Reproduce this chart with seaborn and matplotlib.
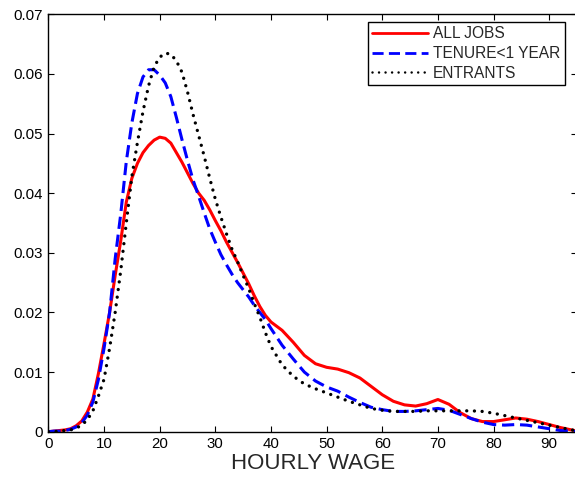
import numpy as np
import pandas as pd
import matplotlib
matplotlib.use("Agg")
import matplotlib.pyplot as plt
import seaborn as sns

# ---- data ----
wage = [0, 1, 2, 3, 4, 5, 6, 7, 8, 9, 10, 11, 12, 13, 14, 15, 16, 17, 18, 19,
        20, 21, 22, 23, 24, 25, 26, 27, 28, 29, 30, 31, 32, 33, 34, 35, 36, 37,
        38, 39, 40, 42, 44, 46, 48, 50, 52, 54, 56, 58, 60, 62, 64, 66, 68, 70,
        72, 74, 76, 78, 80, 82, 84, 86, 88, 90, 92, 94, 95]

all_jobs = [0.0000, 0.0001, 0.0002, 0.0003, 0.0005, 0.0010, 0.0018, 0.0033, 0.0055, 0.0098,
            0.0148, 0.0200, 0.0262, 0.0320, 0.0385, 0.0425, 0.0450, 0.0468, 0.0480, 0.0489,
            0.0494, 0.0492, 0.0484, 0.0468, 0.0452, 0.0434, 0.0416, 0.0400, 0.0388, 0.0372,
            0.0354, 0.0337, 0.0318, 0.0301, 0.0284, 0.0266, 0.0248, 0.0228, 0.0210, 0.0195,
            0.0184, 0.0170, 0.0150, 0.0128, 0.0114, 0.0108, 0.0105, 0.0099, 0.0090, 0.0076,
            0.0062, 0.0051, 0.0045, 0.0043, 0.0047, 0.0054, 0.0046, 0.0032, 0.0022, 0.0017,
            0.0017, 0.0020, 0.0023, 0.0021, 0.0017, 0.0012, 0.0007, 0.0003, 0.0001]

tenure_lt1 = [0.0000, 0.0001, 0.0001, 0.0002, 0.0004, 0.0008, 0.0015, 0.0028, 0.0050, 0.0088,
              0.0140, 0.0200, 0.0290, 0.0365, 0.0453, 0.0518, 0.0567, 0.0595, 0.0607, 0.0607,
              0.0598, 0.0585, 0.0562, 0.0527, 0.0490, 0.0455, 0.0422, 0.0395, 0.0367, 0.0340,
              0.0318, 0.0297, 0.0280, 0.0264, 0.0250, 0.0238, 0.0226, 0.0212, 0.0200, 0.0188,
              0.0173, 0.0145, 0.0122, 0.0100, 0.0085, 0.0075, 0.0068, 0.0058, 0.0049, 0.0041,
              0.0037, 0.0034, 0.0034, 0.0035, 0.0037, 0.0039, 0.0036, 0.0029, 0.0022, 0.0016,
              0.0012, 0.0011, 0.0012, 0.0011, 0.0008, 0.0005, 0.0002, 0.0001, 0.0000]

entrants = [0.0000, 0.0000, 0.0001, 0.0002, 0.0003, 0.0006, 0.0011, 0.0020, 0.0035, 0.0060,
            0.0088, 0.0140, 0.0200, 0.0270, 0.0350, 0.0428, 0.0485, 0.0537, 0.0580, 0.0612,
            0.0628, 0.0635, 0.0633, 0.0622, 0.0603, 0.0570, 0.0532, 0.0497, 0.0462, 0.0425,
            0.0390, 0.0360, 0.0332, 0.0306, 0.0285, 0.0262, 0.0240, 0.0215, 0.0192, 0.0166,
            0.0143, 0.0112, 0.0093, 0.0080, 0.0072, 0.0065, 0.0058, 0.0051, 0.0045, 0.0039,
            0.0036, 0.0034, 0.0034, 0.0034, 0.0035, 0.0035, 0.0035, 0.0035, 0.0035, 0.0034,
            0.0031, 0.0027, 0.0023, 0.0019, 0.0015, 0.0011, 0.0007, 0.0003, 0.0002]

labels = ["ALL JOBS", "TENURE<1 YEAR", "ENTRANTS"]
x_ticks = [0, 10, 20, 30, 40, 50, 60, 70, 80, 90]
y_ticks = [0, 0.01, 0.02, 0.03, 0.04, 0.05, 0.06, 0.07]
y_tick_labels = ["0", "0.01", "0.02", "0.03", "0.04", "0.05", "0.06", "0.07"]

# ---- style ----
sns.set_style("ticks")
plt.rcParams["font.family"] = ["Liberation Sans", "DejaVu Sans"]
plt.rcParams["xtick.direction"] = "in"
plt.rcParams["ytick.direction"] = "in"

fig = plt.figure(figsize=(5.75, 4.84), dpi=100)
W, H = 575.0, 484.0
left, right, top, bottom = 48.4, 577.0, 14.3, 431.7
ax = fig.add_axes([left / W, 1 - bottom / H, (right - left) / W, (bottom - top) / H])

sns.lineplot(x=wage, y=all_jobs, ax=ax, color="#ff0000", lw=2.2,
             label=labels[0], solid_capstyle="round")
sns.lineplot(x=wage, y=tenure_lt1, ax=ax, color="#0000ff", lw=2.2,
             label=labels[1])
sns.lineplot(x=wage, y=entrants, ax=ax, color="black", lw=2.4,
             label=labels[2])
lines = ax.get_lines()
lines[1].set_dashes((4.0, 1.9))
lines[1].set_dash_capstyle("butt")
lines[2].set_dashes((0.01, 2.3))
lines[2].set_dash_capstyle("round")

ax.set_xlim(0, 95)
ax.set_ylim(0, 0.07)
ax.set_xticks(x_ticks)
ax.set_yticks(y_ticks)
ax.set_yticklabels(y_tick_labels)
ax.tick_params(axis="both", which="both", direction="in", top=True, right=True,
               length=4, width=0.8, labelsize=10.8, pad=4, colors="black")
for s in ax.spines.values():
    s.set_visible(True)
    s.set_linewidth(1.0)
    s.set_color("black")

ax.set_xlabel("HOURLY WAGE", fontsize=16, labelpad=1)
ax.set_ylabel("")

leg = ax.legend(loc="upper right", bbox_to_anchor=(565 / W, 1 - 21.7 / H),
                bbox_transform=fig.transFigure, fontsize=11.2, frameon=True,
                fancybox=False, framealpha=1, edgecolor="black",
                handlelength=3.6, handletextpad=0.3, labelspacing=0.3,
                borderpad=0.3, borderaxespad=0)
leg.get_frame().set_linewidth(1.0)
hl = leg.get_lines()
hl[0].set_linewidth(2.0)
hl[1].set_linewidth(2.0)
hl[2].set_linewidth(1.8)
hl[2].set_dashes((0.01, 2.6))
hl[2].set_dash_capstyle("round")

fig.savefig("out.png", dpi=100)
